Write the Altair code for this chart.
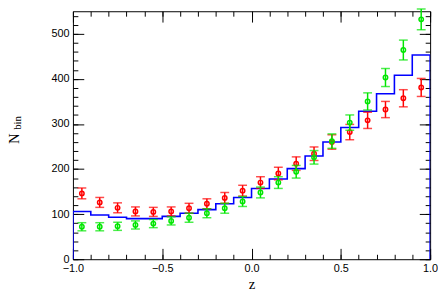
import altair as alt
import pandas as pd

# ---- data ----
centers = [-0.95, -0.85, -0.75, -0.65, -0.55, -0.45, -0.35, -0.25, -0.15, -0.05,
           0.05, 0.15, 0.25, 0.35, 0.45, 0.55, 0.65, 0.75, 0.85, 0.95]
red = [146, 126, 114, 106, 105, 106, 113, 123, 136, 152,
       170, 190, 212, 234, 260, 282, 308, 332, 357, 381]
red_err = [12, 11, 11, 10, 10, 10, 11, 11, 12, 12,
           13, 14, 15, 15, 16, 17, 18, 18, 19, 20]
green = [72, 72, 73, 76, 79, 85, 92, 102, 113, 128,
         148, 170, 194, 226, 262, 303, 350, 403, 464, 532]
green_err = [9, 9, 9, 9, 9, 9, 10, 10, 11, 11,
             12, 13, 14, 15, 16, 17, 19, 20, 22, 23]
blue = [106, 98, 93, 90, 90, 95, 102, 110, 123, 137,
        157, 178, 201, 229, 260, 292, 328, 367, 408, 453]
low_edges = [-1.0, -0.9, -0.8, -0.7, -0.6, -0.5, -0.4, -0.3, -0.2, -0.1,
             0.0, 0.1, 0.2, 0.3, 0.4, 0.5, 0.6, 0.7, 0.8, 0.9]

x_major = [-1.0, -0.5, 0.0, 0.5, 1.0]
x_minor = [-1.0, -0.9, -0.8, -0.7, -0.6, -0.5, -0.4, -0.3, -0.2, -0.1, 0.0,
           0.1, 0.2, 0.3, 0.4, 0.5, 0.6, 0.7, 0.8, 0.9, 1.0]
y_major = [0, 100, 200, 300, 400, 500]
y_minor = [0, 20, 40, 60, 80, 100, 120, 140, 160, 180, 200, 220, 240, 260, 280,
           300, 320, 340, 360, 380, 400, 420, 440, 460, 480, 500, 520, 540]

# ---- tables ----
def series_df(vals, errs, name):
    return pd.DataFrame({
        "z": centers,
        "n": vals,
        "lo": [v - e for v, e in zip(vals, errs)],
        "hi": [v + e for v, e in zip(vals, errs)],
        "s": name,
    })

red_df = series_df(red, red_err, "red")
green_df = series_df(green, green_err, "green")
hist_df = pd.DataFrame({
    "z": [-1.0] + low_edges + [1.0],
    "n": [0] + blue + [0],
})
hist_df["i"] = range(len(hist_df))

xs = alt.Scale(domain=[-1, 1], nice=False, zero=False)
ys = alt.Scale(domain=[0, 550], nice=False, zero=False)

LAB = dict(labelFont="Liberation Sans", labelFontSize=11, labelColor="black",
           labelFlush=False, labelOverlap=False)

ax_xb = alt.Axis(orient="bottom", offset=-11, tickSize=11, values=x_major, format=".1f",
                 labelPadding=4, title="z", titleFont="Liberation Serif", titleFontSize=15,
                 titleFontWeight="normal", titleColor="black", titlePadding=3, **LAB)
ax_xb2 = alt.Axis(orient="bottom", offset=-5, tickSize=5, values=x_minor, labels=False, title="")
ax_xt = alt.Axis(orient="top", offset=-11, tickSize=11, values=x_major, labels=False, title="")
ax_xt2 = alt.Axis(orient="top", offset=-5, tickSize=5, values=x_minor, labels=False, title="")

ax_yl = alt.Axis(orient="left", offset=-11, tickSize=11, values=y_major, labelPadding=4,
                 title="", **LAB)
ax_yl2 = alt.Axis(orient="left", offset=-5, tickSize=5, values=y_minor, labels=False, title="")
ax_yr = alt.Axis(orient="right", offset=-11, tickSize=11, values=y_major, labels=False, title="")
ax_yr2 = alt.Axis(orient="right", offset=-5, tickSize=5, values=y_minor, labels=False, title="")

hist = alt.Chart(hist_df).mark_line(interpolate="step-after", color="#0000ff",
                                    strokeWidth=1.6, clip=True).encode(
    x=alt.X("z:Q", scale=xs, axis=ax_xb),
    y=alt.Y("n:Q", scale=ys, axis=ax_yl),
    order="i:Q",
)


def series_layers(df, color, axes):
    ax1, ax2, ax3, ay1, ay2, ay3 = axes
    rule = alt.Chart(df).mark_rule(color=color, strokeWidth=1.5).encode(
        x=alt.X("z:Q", scale=xs, axis=ax1),
        y=alt.Y("lo:Q", scale=ys, axis=ay1),
        y2="hi:Q",
    )
    cap_lo = alt.Chart(df).mark_tick(color=color, orient="horizontal", size=9,
                                     thickness=1.5).encode(
        x=alt.X("z:Q", scale=xs, axis=ax2),
        y=alt.Y("lo:Q", scale=ys, axis=ay2),
    )
    cap_hi = alt.Chart(df).mark_tick(color=color, orient="horizontal", size=9,
                                     thickness=1.5).encode(
        x=alt.X("z:Q", scale=xs, axis=ax3),
        y=alt.Y("hi:Q", scale=ys, axis=ay3),
    )
    pt = alt.Chart(df).mark_point(shape="circle", filled=False, color=color, size=20,
                                  strokeWidth=1.5, opacity=1).encode(
        x=alt.X("z:Q", scale=xs, axis=None),
        y=alt.Y("n:Q", scale=ys, axis=None),
    )
    return [rule, cap_lo, cap_hi, pt]


red_layers = series_layers(red_df, "#ff0000", (ax_xb2, ax_xt, ax_xt2, ax_yl2, ax_yr, ax_yr2))
green_layers = series_layers(green_df, "#00e600", (None, None, None, None, None, None))

tN = alt.Chart(pd.DataFrame({"t": ["N"]})).mark_text(
    angle=270, align="center", baseline="alphabetic", font="Liberation Serif",
    fontSize=15, color="black").encode(
    text="t:N", x=alt.value(-55), y=alt.value(129.5))
tbin = alt.Chart(pd.DataFrame({"t": ["bin"]})).mark_text(
    angle=270, align="center", baseline="alphabetic", font="Liberation Serif",
    fontSize=11, color="black").encode(
    text="t:N", x=alt.value(-52.5), y=alt.value(113.5))

chart = alt.layer(hist, *red_layers, *green_layers, tN, tbin).resolve_axis(
    x="independent", y="independent"
).properties(
    width=363, height=252,
    autosize=alt.AutoSizeParams(type="none"),
    padding={"left": 66, "top": 1, "right": 8, "bottom": 30},
).configure_view(
    stroke="black", strokeWidth=1
).configure_axis(
    domain=False, grid=False, tickColor="black", tickWidth=1
)

chart.save("out.html", embed_options={"renderer": "svg", "actions": False})
